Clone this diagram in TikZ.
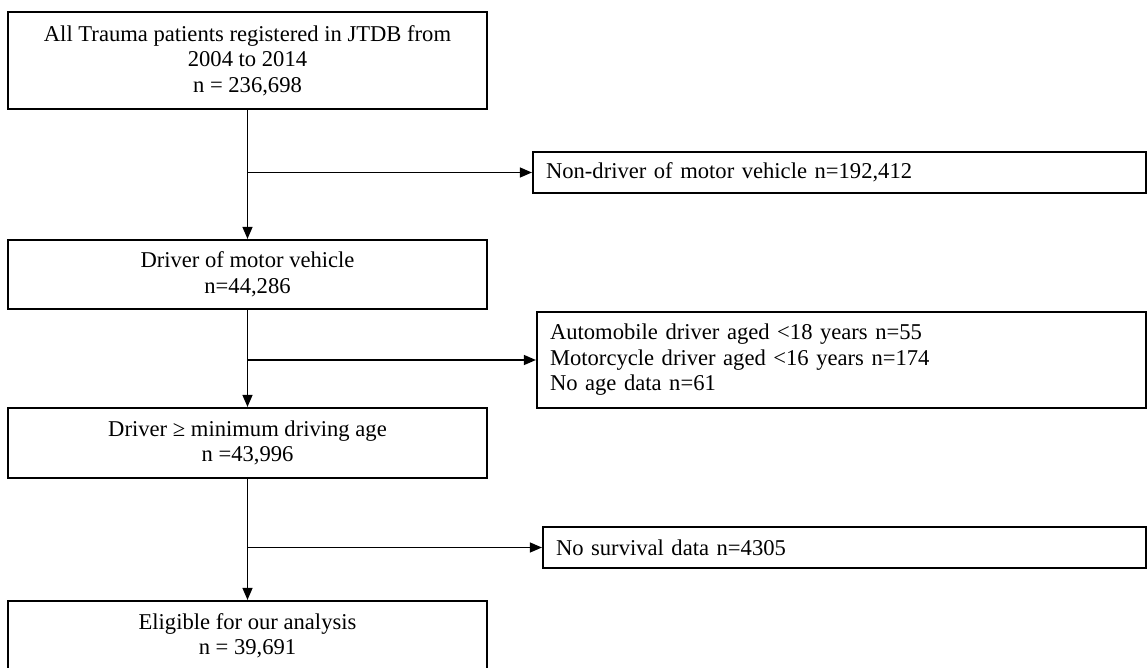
\documentclass[tikz,border=0pt]{standalone}
\usepackage{fontspec}
\setmainfont{Liberation Serif}
\usetikzlibrary{arrows.meta}

\begin{document}
\begin{tikzpicture}[
  x=1pt,y=-1pt,
  every node/.style={draw,rectangle,line width=2.2pt,inner sep=0pt,font=\fontsize{22.6}{25.5}\selectfont},
  mainbox/.style={minimum width=479pt,align=center},
  sidebox/.style={align=left,inner xsep=13pt},
  arr/.style={line width=1.3pt,-{Triangle[length=12pt,width=10pt]}}
]
  \clip (0,0) rectangle (1148,667);

  \node[mainbox,minimum height=97pt] (all)  at (247.5,60.5) {All Trauma patients registered in JTDB from\\2004 to 2014\\n = 236,698};
  \node[mainbox,minimum height=69pt] (drv)  at (247.5,274.5) {Driver of motor vehicle\\n=44,286};
  \node[mainbox,minimum height=70pt] (age)  at (247.5,443) {Driver ≥ minimum driving age\\n =43,996};
  \node[mainbox,minimum height=70pt] (elig) at (247.5,636) {Eligible for our analysis\\n = 39,691};

  \node[sidebox,text width=587pt,minimum height=41pt] (nondrv) at (839.5,172.5) {Non-driver of motor vehicle n=192,412};
  \node[sidebox,text width=583pt,minimum height=96pt] (young)  at (841.5,360) {Automobile driver aged <18 years n=55\\Motorcycle driver aged <16 years n=174\\No age data n=61};
  \node[sidebox,text width=577pt,minimum height=41pt] (nosurv) at (844.5,547.5) {No survival data n=4305};

  \coordinate (s1) at (all.south |- nondrv.west);
  \coordinate (s2) at (drv.south |- young.west);
  \coordinate (s3) at (age.south |- nosurv.west);

  \draw[arr] (all) -- (drv);
  \draw[arr] (drv) -- (age);
  \draw[arr] (age) -- (elig);
  \draw[arr] (s1) -- (nondrv.west);
  \draw[arr] (s2) -- (young.west);
  \draw[arr] (s3) -- (nosurv.west);
\end{tikzpicture}
\end{document}
